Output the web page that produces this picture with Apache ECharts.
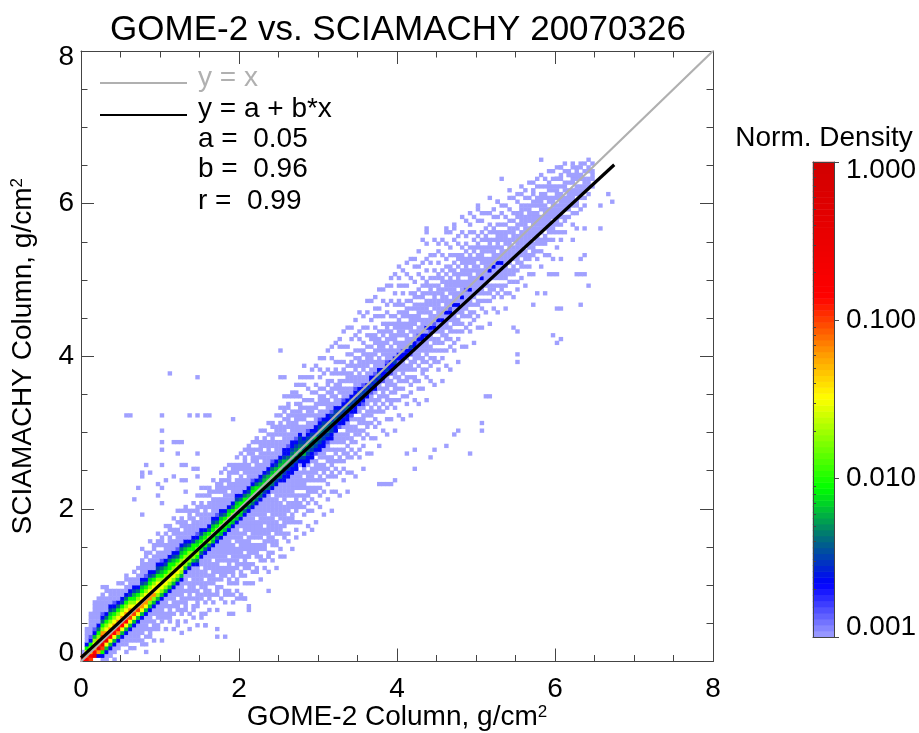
<!DOCTYPE html>
<html><head><meta charset="utf-8">
<style>html,body{margin:0;padding:0;background:#fff}#c{width:919px;height:733px}</style>
<script src="https://cdn.jsdelivr.net/npm/echarts@6/dist/echarts.min.js"></script>
</head><body><div id="c"></div>
<script>
const titleText = "GOME-2 vs. SCIAMACHY 20070326";
const xTicks = [0,2,4,6,8];
const yTicks = [0,2,4,6,8];
const densityTicks = [0.001,0.01,0.1,1];
const densityMinor = [0.002,0.003,0.004,0.005,0.006,0.007,0.008,0.009,0.02,0.03,0.04,0.05,0.06,0.07,0.08,0.09,0.2,0.3,0.4,0.5,0.6,0.7,0.8,0.9];
const identityLine = [[0,0],[8,8]];
const fitLine = [[0,0.05],[6.75,6.51]];
const legendTexts = ["y = x","y = a + b*x","a =  0.05","b =  0.96","r =  0.99"];
// log10 density of each letter used in columnCells
const levelLog = {a:-3,b:-2.85,c:-2.65,d:-2.5,e:-2.37,f:-2.2,g:-2.05,h:-1.75,i:-1.5,j:-1.2,k:-1.0,l:-0.85,m:-0.4};
// row of the density ridge in each 0.05-wide column
const ridgeRows = [0,1,2,3,4,5,6,7,8,9,10,11,12,13,14,15,16,17,18,19,20,21,22,23,24,25,26,27,28,29,30,31,32,33,34,35,36,37,38,39,40,41,42,43,44,45,46,47,48,49,50,51,52,53,54,55,
55,56,57,58,59,60,61,62,63,64,65,66,67,68,69,70,71,72,73,74,75,76,77,78,79,80,81,82,83,84,85,86,87,88,89,90,91,92,93,94,95,96,97,98,99,100,101,102,103,104,
104,105,106,107,108,109,110,111,112,113,114,115,116,117,118,119,120,121,122,123,124,125,126,127];
// each column: cells below the ridge | ridge cell and cells above it ('.' = empty)
const columnCells = [
"|lka","kl|kigcaaaa","kl|jhgcbaaaaaa","ml|jihfcbaaaaaaa","cjm|kjhgecaaaaaaa.",
"acgkm|lkjhgecbaaaaa.a","aacfim|ljihgecaaaa.aa",".aacfil|kjihgfdcaaaa.","a.aacfil|kjihgecbaaa","..aacfjl|kjihgecaaa.a",
"..aacfil|kjihgdcaa.a","a.aaacfil|kjihgecaa.aa",".a.aaacfik|jjihgdcaaa.","a.aaaacfik|jihgfdcaa.a","..aaaaacfik|jihgecaaa.a",
".aa.aaaacfij|jihgfdcaaaaa..a","a.a.aaaacfij|jihgecbaaa.aa","..aaa.aaacfhj|jihgfdcaaa.a..a",".a..aaa.aacfhj|iihgecaaaa.aa","...aa.aaaacfhi|iihgedcaaa.aa.a",
"a....aaaaaacfhi|ihgfecbaa.aaa","..a..aa.aaacfhi|ihgfdcaaaa..a.a","....aaaaa.aacfhi|ihggecaaaaa.a",".a...a.aaaaacfhi|ihgfdcaaa.aa..a","...aa..aaa.aaacfhi|ihgecbaaaaa.a",
"a....aa.aaaaaacfhi|ihgfecaaa.aaa.a","..a..aaaa.a.aaacfh|ihgfdcaaaaa..aa","....a...aaaaa.aacfh|hhgecaaaa.aaa","...a.aa.a.aaaaaaacfh|hggdcaaaaa.a.a",".a....aaaaa.aaaaacegh|hgfcbaaa.aaa..a",
"...aa...aa.aaaaa.aaceg|hgfdcaaaa.aa.a","a.....a.aaaa.aaaaaaceg|hgfcaaaaaa..a.a","...a..aaa.aaa.aaaaaceh|hgecaaa.aa.aaa","....a.a..aaaaaa.aaacfg|hgfdcaaaaa.a..a","..a...aaa.a.aaaaaaaaceg|hgecbaaaa.aaa",
"....a..a.aaaa.aaaaaacfg|hgfdcaaa.aaaa.a","...a.aa...aaa.aaaaaaacfg|hgecaaaaaa.a..a",".....aa.aa.aaaa.aaaaaacfg|hgfcaaa.aaaaa.a","..a....a.aaa.aaaaa.aaacfg|hgecaaaaa..aaa","....a.aa..aaaaaa.aaaaacfg|hgfdcaaaa.aaa.a",
"...a....aa.a.aaaaaaa.aacfg|ggecaaaaa.aa..a",".a...a.a.aaaa.aaa.aaaaaceg|ggecaaa.aaaaa.a","....a...aa.aaaaaa.aaaaaceg|gfdcaaaaaa..aaa","...a..a.a..aaa.aaaaaaaaceg|ggfcbaaa.aaaa.a",".....aa..aaaa.aaaaa.aaacef|ggecaaaaaa.a.aa",
"..a.....a.aa.aaaaaaaaaacef|gfdcaaa.aaaaa..a","....a.a..aaa.aa.aaaaaaacdf|gfecaaaaa.aaa.a","...a...aa..aaaaaaa.aaaaacef|gfdcaaaaaaa.a..a",".....a.a.aaa.aaaaaaaaa.acef|gfecbaa.aaaa.aa","..a.....aa.aaaa.aaaaaaaacdf|gfdcaaaaa.aaa..a",
"....a.a...aaa.aaaaa.aaaacef|gfecaaaa.aaaa.a.a","...a....aa.aaaaaa.aaaaaccde|ffdccaaaaaa.a.aa..a",".....a.a..aa.aaa.aaaaaccdf|feccbaaa.aaaa.aa.a","..a......aaa.aa.aaaaaaccde|fedccaaaaa.aa...aa","....a.a.a..aaaaa.aaaaaccde|fedcbaaaaaaa.a.aa.a",
".....a...aa.a.aaaaa.acde|feddcaa.aaaaa.a..a.a","....a....a.a.aa.aaa.aaccdf|eedcaaa.aa.a.a...a",".....a...a.a.aaa.aaa.accde|fedcbaa.aaa.a..a..a","..a....a..a.aa.aaaa.accde|eedcaa.aaa.a.a...a.a","...a....a..aa.a.aaaa.bcde|fdccaaa.aa..a.a....a",
"......a..a.a.aa.aa.aaccde|eedcbaa.aaa.a..a.a..a","...a.....a..a.aaa.aaaccdd|eedcaa.aaa.a...a...a","......a...a.a.a.aa.aabcde|edccaaaa.a.aa..a....a","..a....a...aa.aaa.a.accdd|ecdbaa.aaa.a.a...a..a",".....a...a.a.a.aa.aaaccd|eddcaaa.aa..aa.a....a",
"...a.....a..aa.a.aaa.bcd|ddcaa.aaaa.a..a...a.a","......a..a.a.aa.aaa.accd|ddcbaaa.a.aa.a...a...a","..a....a...aa.a.aaaaaccd|eccaaa.aaa.a..a.a....a",".....a...a.a.aa.aa.abcd|ddcaa.aaa.aa.a...a..a","...a.....a..a.aaa.a.ccd|dccbaaa.aa.a.a...a...a",
"......a.a...aa.aa.aacd|ddcaaaa.aaa.a..a.a....a","..a.....a.a.a.aaa.abcd|dcbaa.aaa.aa.a...a..a",".....a....a.aa.aa.aacd|dcaaa.aaaa.a..a.a...a..a","...a...a...a.aaa.aabc|dccaa.aaa.a.aa...a....a","......a..a.a.a.aa.acc|dcbaaa.aa.aaa.a..a.a..a",
"..a.....a..aa.aa.aac|ddcaaa.aaaa.a...a.a....a",".....a....a.a.aaa.bc|ccaa.aaaa.aa.a.a...a..a","...a...a..a.aa.aaaac|dcbaaa.aa.aaa..a.a....a","......a...aa.a.aa.bc|ccaaaa.aaa.a.a...a...a.a","..a.....a.a.aaa.aaac|dcaa.aaa.aa.a..a..a....a",
".....a...a..a.aa.aab|ccaaa.aaaaa.a.aa...a.a..a","...a.....a.a.a.aaaac|cbaa.aaaa.aa.a..a.a...a","......a.a...aa.aa.ac|caaaa.aa.aaa.a...a..a..a","..a.....a.a.a.aaa.bc|daa.aaaaa.a.a.a...a....a",".....a....aa.a.aaaac|caaa.aaa.aa.aa..a...a.a",
"...a...a.a...a.aaaab|cbaa.aaaaa.a.a...a.a...a","......a...aa.aa.aaac|caaaa.aaa.aa.a.a...a","..a.....a.a.a.aaaaac|acaa.aaaa.a.aa..a..a...a",".....a...a.a.aa.aab|caaaa.aa.aaa.a...a.a","...a.....aa.a.aa.ac|baa.aaaaa.a.a.a...a...a",
"......a.a..a.aa.aaa|caaaaa.aaa.aa..a..a.a","..a.....a.a.a.aaaac|aaa.aaaa.aa.a...a...a",".....a...a..aa.aaaa|caaaa.aaa.a.a.a...a..a","...a.....a.a.aa.aac|baa.aaaaa.aa..a.a...a","......a.a..a.aaaaa|caaaaaa.aa.a.a...a...a",
"..a.....a.a.aa.aac|aaa.aaaa.a.aa..a.a",".....a...a.a.aaaaa|caaaa.aa.aaa.a...a...a","...a....a..a.aaaa|abaa.aaaaa.a.a.a...a","......a.a.aa.aaaa|caaaaa.aaa.a...a.a..a","..a.....a.a.a.aaa|aaa.aaaa.aa.a.a...a",
".....a..a..aa.aaa|aaaaa.aa.aa.a...a..a","...a....a.a.aaaa|caa.aaaaa.a.a..a.a","......a..a.a.aaa|aaaaa.aa.aa.a...a","..a.....a.aaa.aa|caaa.aaaa.a.a..a...a",".....a..a.aa.aaa|caaaaa.a.aa..a.a",
"...a....a.a.aaaa|caa.aaaaa.a.a...a","......a.aa.aaaa|caaaa.aaa.a..a.a","..a...a.a.aaaaa|aaa.aaaa.a.a..a",".....a..a.aa.aa|aaaaa.aa.a..a..a","...a...a.aaa.aa|aa.aaaa.a.a...a",
"....a.a..a.aaaa|aaaa.aa.aa..a.a",".....a..aa.aaa|aaaa.aaaaaa..a.a","..a....a.aaa.a|aaaaaaa.aa.a.a..","....a.a.aa.aaa|aaa.aaaaa.a...a","...a....aaaa.a|aaaaaa.aa.aa.a",
".....a.a.aaaa|aaaaa.aaa..a.a","..a...a.aa.aa|aaa.aaaaa.a..a","....a..aaa.aa|aaaaa.aa.a.a","...a...a.aaaa|aaa.aa.aaa..a",".....a.aaa.a|aaaaa.aa.a.a",
"..a...a.aaaa|aa.aaaa.a..a","....a.a.aaa|aaaa.a.aa.a","...a..aa.aa|aa.aaa..a.a",".....a.aaa|aaa.a.aa","..a..a.aaa|aa.aaa.a",
"....a.aa.a|aa.a.aa","...a..aaa|a.aa..a","..a.a.aa|aa.a.a","....a.aa|a..a.a","...a.a|aa.a"
];
// isolated light cells [column,row] outside the main band
const strayCells = [[22,75],[29,74],[50,81],[56,77],[56,74],[50,74],[51,74],[20,64],[11,64],[12,64],[27,64],[29,64],[31,64],[32,64],[38,63],[20,60],[20,57],[23,57],[24,57],[25,57],[20,55],[29,54],[24,54],[20,51],[16,51],[25,51],[26,51],[15,49],[15,48],[17,49],[28,50],[29,50],[23,48],[25,47],[26,47],[29,48],[21,47],[19,46],[20,45],[14,45],[19,43],[13,42],[20,41],[15,38],[26,44],[30,45],[22,35],[24,39],
[34,6],[36,6],[34,8],[31,9],[31,12],[27,8],[16,2],[38,17],[42,14],[47,18],[37,12],[38,12],[42,13],[39,16],[40,16],[41,16],[41,27],[42,27],[45,26],[47,27],
[84,50],[79,47],[75,46],[76,46],[77,46],[78,46],[94,59],[95,60],[98,54],[101,60],[92,56],[89,55],[88,53],[84,55],[82,54],[102,69],[103,69],[101,62],
[125,101],[126,101],[127,101],[128,98],[126,93],[120,92],[121,92],[119,85],[121,84],[120,83],[114,93],[115,96],[117,96],[110,80],[110,78],[110,86],[109,87],[106,126],[116,131],[100,119],[108,123],[105,120],[87,113],[87,112],[92,113],[94,113],[86,110],[121,129],[124,130],[126,129],[123,127],[124,127],[125,127],[126,127],[120,126],[128,128],[133,122],[134,120],[131,119],[131,113],[127,113],[125,113],[127,106],[126,105],[124,110],[121,110],[119,105],[121,105],[120,101],[118,101],[119,101]];

// colour scale sampled from the colour bar: [log10 density, r, g, b]
const colourStops = [[-3,160,160,255],[-2.665,0,0,255],[-2.37,0,112,120],[-2.06,0,255,0],[-1.49,255,255,0],[-1.21,255,153,0],[-0.854,255,0,0],[0,208,0,0]];
function colourAt(v){
  for(let i=1;i<colourStops.length;i++){
    const a=colourStops[i-1],b=colourStops[i];
    if(v<=b[0]){const t=(v-a[0])/(b[0]-a[0]);
      return 'rgb('+[1,2,3].map(k=>Math.round(a[k]+(b[k]-a[k])*t)).join(',')+')';}
  }
  return 'rgb(208,0,0)';
}
const ramp=[];for(let i=0;i<=150;i++)ramp.push(colourAt(-3+i*0.02));

const cells=[];
columnCells.forEach((s,c)=>{
  const [lo,hi]=s.split('|');
  const put=(ch,r)=>{if(ch!=='.'&&r>=0)cells.push([c,r,levelLog[ch]]);};
  [...lo].forEach((ch,i)=>put(ch,ridgeRows[c]-lo.length+i));
  [...hi].forEach((ch,i)=>put(ch,ridgeRows[c]+i));
});
strayCells.forEach(p=>cells.push([p[0],p[1],levelLog.a]));
const binLabels=[];for(let i=0;i<160;i++)binLabels.push(String(i));
const barSteps=[];for(let i=0;i<80;i++)barSteps.push(String(i));
const barCells=barSteps.map((s,i)=>[0,i,-3+3*(i+0.5)/80]);

const ink='#444';
const font='"Liberation Sans", Arial, sans-serif';
const FS=28;
const labelStyle={color:'#000',fontFamily:font,fontSize:FS};
const supRich={t:{fontFamily:font,fontSize:FS,color:'#000'},s:{fontFamily:font,fontSize:17,color:'#000',verticalAlign:'bottom',padding:[0,0,11,0]}};
function mainAxis(extra,labelled){
  return Object.assign({type:'value',min:0,max:8,interval:2,z:3,splitLine:{show:false},
    axisLine:{show:true,onZero:false,lineStyle:{color:ink,width:1}},
    axisTick:{show:true,inside:true,length:13,lineStyle:{color:ink,width:1}},
    minorTick:{show:true,splitNumber:4,length:6.5,lineStyle:{color:ink,width:1}},
    axisLabel:{show:labelled,color:'#000',fontFamily:font,fontSize:FS,margin:14}},extra);
}
function hiddenCat(grid,data){return {type:'category',gridIndex:grid,data:data,show:false,boundaryGap:true};}
const chart=echarts.init(document.getElementById('c'),null,{renderer:'canvas'});
const cbAxisBase={type:'log',logBase:10,gridIndex:1,min:0.001,max:1,z:3,splitLine:{show:false}};
chart.setOption({
  animation:false,backgroundColor:'#fff',
  title:{text:titleText,left:393,top:8,textAlign:'center',textStyle:{fontFamily:font,fontSize:35,fontWeight:'normal',color:'#000'}},
  grid:[{left:81,top:51,width:632,height:610.5,outerBoundsMode:'none'},{left:813,top:162,width:21,height:475,outerBoundsMode:'none'}],
  visualMap:{show:false,seriesIndex:[0,1],dimension:2,min:-3,max:0,inRange:{color:ramp}},
  xAxis:[
    mainAxis({position:'bottom',name:'{t|GOME-2 Column, g/cm}{s|2}',nameLocation:'middle',nameGap:42,nameMoveOverlap:false,nameTextStyle:{rich:supRich}},true),
    mainAxis({position:'top'},false),
    hiddenCat(0,binLabels),
    {type:'value',gridIndex:1,min:0,max:1,position:'bottom',z:3,axisLine:{show:true,onZero:false,lineStyle:{color:ink}},axisTick:{show:false},axisLabel:{show:false},splitLine:{show:false}},
    {type:'value',gridIndex:1,min:0,max:1,position:'top',z:3,axisLine:{show:true,onZero:false,lineStyle:{color:ink}},axisTick:{show:false},axisLabel:{show:false},splitLine:{show:false}},
    hiddenCat(1,['bar'])
  ],
  yAxis:[
    mainAxis({position:'left',name:'{t|SCIAMACHY Column, g/cm}{s|2}',nameLocation:'middle',nameGap:44,nameRotate:90,nameMoveOverlap:false,nameTextStyle:{rich:supRich},
      axisLabel:{margin:7,formatter:v=>v===8?'{u|8}':v===0?'{d|0}':'{n|'+v+'}',
        rich:{n:labelStyle,u:Object.assign({padding:[12,0,0,0]},labelStyle),d:Object.assign({padding:[0,0,16,0]},labelStyle)}}},true),
    mainAxis({position:'right'},false),
    hiddenCat(0,binLabels),
    Object.assign({},cbAxisBase,{position:'right',axisLine:{show:true,onZero:false,lineStyle:{color:ink}},
      axisTick:{show:true,length:5,lineStyle:{color:ink}},
      axisLabel:{show:true,margin:12,
        formatter:v=>{const t=Number(v).toFixed(3);return v>0.9?'{u|'+t+'}':v<0.0015?'{d|'+t+'}':'{n|'+t+'}';},
        rich:{n:labelStyle,u:Object.assign({padding:[16,0,0,0]},labelStyle),d:Object.assign({padding:[0,0,20,0]},labelStyle)}}}),
    {type:'value',gridIndex:1,min:-3,max:0,z:3,position:'right',splitLine:{show:false},axisLine:{show:false},axisLabel:{show:false},
      axisTick:{show:true,length:3,customValues:densityMinor.map(Math.log10),lineStyle:{color:ink}}},
    Object.assign({},cbAxisBase,{position:'left',axisLine:{show:true,onZero:false,lineStyle:{color:ink}},axisTick:{show:false},axisLabel:{show:false}}),
    hiddenCat(1,barSteps)
  ],
  graphic:[
    {type:'line',shape:{x1:100,y1:83,x2:187,y2:83},style:{stroke:'#b0b0b0',lineWidth:2.2},z:10},
    {type:'line',shape:{x1:100,y1:115,x2:187,y2:115},style:{stroke:'#000',lineWidth:2},z:10},
    ...legendTexts.map((t,i)=>({type:'text',x:198,y:[78,109,139,169,201][i],z:10,
      style:{text:t,fontFamily:font,fontSize:FS,fill:i===0?'#b0b0b0':'#000',verticalAlign:'middle'}})),
    {type:'text',x:824,y:138,z:10,style:{text:'Norm. Density',fontFamily:font,fontSize:FS,fill:'#000',align:'center',verticalAlign:'middle'}}
  ],
  series:[
    {type:'heatmap',xAxisIndex:2,yAxisIndex:2,data:cells,progressive:0,emphasis:{disabled:true},z:2},
    {type:'heatmap',xAxisIndex:5,yAxisIndex:6,data:barCells,progressive:0,emphasis:{disabled:true},z:2},
    {type:'line',xAxisIndex:0,yAxisIndex:0,data:identityLine,showSymbol:false,lineStyle:{color:'#b0b0b0',width:2.2},z:4},
    {type:'line',xAxisIndex:0,yAxisIndex:0,data:fitLine,showSymbol:false,lineStyle:{color:'#000',width:3.2},z:5}
  ]
});
</script></body></html>
